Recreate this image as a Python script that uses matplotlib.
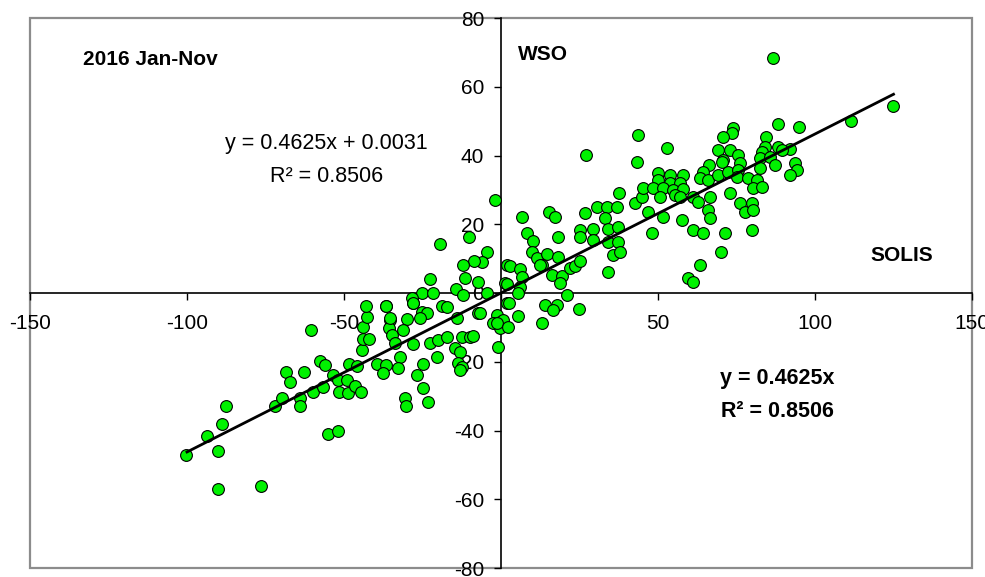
import matplotlib
matplotlib.use("Agg")
import matplotlib.pyplot as plt
from matplotlib.patches import Rectangle
import numpy as np

plt.rcParams['font.family'] = ['Liberation Sans', 'DejaVu Sans']
plt.rcParams['axes.unicode_minus'] = False

# SOLIS (x) vs WSO (y) values
solis = [
    # left tail
    -100.4, -93.7, -89.0, -87.6, -90.0, -90.0, -76.4,
    -72.0, -69.8, -68.5, -67.2, -62.7, -64.0, -64.0, -60.6, -60.0,
    -57.6, -56.0, -56.6, -53.4, -51.8, -51.5, -49.1, -48.6, -46.5, -44.7, -48.3, -46.0, -55.0, -51.8,
    # mid-left
    -44.4, -43.8, -41.9, -43.8, -42.8, -43.0, -36.7, -35.4, -35.6, -34.8, -33.8, -30.0, -31.1,
    -27.9, -27.9, -32.2, -32.7, -39.6, -36.6, -37.5, -30.6, -30.2, -26.8, -24.7, -24.7, -23.1,
    -25.3, -23.7, -25.3, -21.8, -28.4, -22.6, -20.0, -18.9, -17.3, -20.5, -12.5, -9.9, -8.8,
    -14.6, -13.1, -13.6, -12.5, -13.1, -7.2, -14.1, -0.9, -1.4, -0.3, -0.3, -6.7, -2.5,
    # upper center-left
    -19.4, -10.1, -4.6, -6.2, -8.5, -12.0, -11.5, -7.4, -4.6, -14.3, -12.0, -22.6, -28.1,
    -25.8, -17.3, -35.4, -36.6, -1.9, 1.8, 1.3, 1.8,
    # center-right
    43.7, 27.0, 43.2, 6.8, 15.3, 17.2, 8.2, 10.1, 18.3, 9.8, 11.4, 13.0, 14.5, 18.3,
    25.2, 25.2, 29.4, 29.4, 26.8, 30.5, 33.7, 36.8, 33.1, 34.2, 37.4, 34.2, 37.4, 35.8, 37.9,
    34.2, 37.6, 42.7, 44.8, 45.3, 46.9, 2.9, 6.1, 6.6, 1.8, 6.1, 5.5,
    12.4, 16.1, 19.3, 18.8, 22.0, 23.6, 25.2, 21.1, 24.9, 14.0, 17.7, 16.5, 13.2, 2.7,
    0.7, -1.4, 2.3, 5.5,
    # right cluster
    88.3, 95.0, 74.0, 73.5, 70.6, 53.0, 84.4, 84.1, 88.3, 92.0, 69.2, 70.8, 72.9, 75.6, 76.1,
    83.0, 82.5, 85.7, 89.4, 87.3, 93.6, 94.2, 92.0, 66.3, 70.3, 64.4, 63.4, 66.0, 69.2, 72.4,
    75.6, 75.1, 82.5, 78.8, 81.4, 80.4, 83.0, 50.1, 53.8, 58.1, 50.1, 53.8, 57.0, 48.5, 51.7,
    54.9, 58.1, 50.6, 55.4, 57.0, 61.2, 62.8, 66.6, 66.0, 66.6, 72.9, 76.1, 77.7, 79.8, 80.4,
    51.7, 57.5, 48.0, 61.2, 64.4, 71.3, 79.8, 70.0, 63.4, 59.7, 61.2,
    # right tail
    86.7, 111.5, 124.9,
]
wso = [
    # left tail
    -47.1, -41.6, -38.1, -32.8, -46.0, -56.9, -56.0,
    -32.9, -30.6, -22.9, -25.8, -23.1, -30.5, -33.0, -10.8, -28.9,
    -19.7, -21.0, -27.3, -23.9, -25.3, -28.7, -25.3, -29.2, -27.0, -28.9, -20.7, -21.2, -41.0, -40.1,
    # mid-left
    -16.6, -13.5, -13.5, -9.8, -6.9, -3.8, -3.8, -7.9, -10.3, -12.2, -14.6, -7.7, -10.8,
    -2.8, -14.8, -18.5, -21.9, -20.7, -20.9, -23.4, -30.6, -32.9, -23.9, -20.7, -27.7, -31.6,
    -5.4, -5.9, 0.0, 0.0, -1.5, -14.6, -13.7, -3.8, -12.7, -18.5, -12.7, -12.7, -12.5,
    -16.1, -17.1, -20.5, -21.4, -22.4, -5.9, -7.4, -15.6, -6.4, -8.3, -10.3, -5.9, -8.8,
    # upper center-left
    14.2, 16.4, 12.0, 9.1, 9.4, 8.1, 4.3, 3.3, 0.1, 1.1, -0.6, 4.1, -3.0,
    -7.4, -4.0, -7.4, -3.8, 27.0, 8.1, 2.8, -3.0,
    # center-right
    46.0, 40.1, 38.2, 22.0, 23.7, 22.0, 17.4, 15.2, 16.4, 12.0, 10.1, 8.1, 11.3, 10.6,
    18.3, 16.4, 18.5, 15.4, 23.4, 24.9, 24.9, 25.1, 21.7, 18.5, 19.1, 14.9, 14.9, 11.1, 12.0,
    6.2, 29.2, 26.1, 28.0, 30.5, 23.7, 7.9, 6.9, 4.7, 2.6, 1.8, -0.1,
    8.1, 5.2, 4.9, 3.0, 7.2, 7.9, 9.4, -0.6, -4.7, -3.5, -3.5, -4.9, -8.8, -2.8,
    -7.9, -8.8, -9.8, -6.7,
    # right cluster
    49.2, 48.4, 47.9, 46.5, 45.5, 42.1, 45.5, 42.6, 42.6, 41.8, 41.6, 38.7, 41.6, 40.1, 37.7,
    41.1, 39.2, 39.7, 41.6, 37.2, 37.7, 35.8, 34.3, 37.2, 38.2, 35.3, 33.4, 32.9, 34.3, 35.3,
    35.8, 33.8, 36.3, 33.4, 32.9, 30.5, 30.9, 34.8, 34.3, 34.3, 32.9, 31.9, 31.9, 30.5, 30.5,
    30.0, 30.2, 28.0, 28.5, 28.0, 28.0, 26.6, 28.0, 24.1, 21.7, 29.0, 26.1, 23.7, 26.1, 24.1,
    22.2, 21.2, 17.4, 18.3, 17.4, 17.4, 18.3, 12.0, 8.1, 4.3, 3.3,
    # right tail
    68.5, 50.1, 54.4,
]

slope = 0.4625
intercept = 0.0031
fit_x = [-100, 125]

x_ticks = [-150, -100, -50, 0, 50, 100, 150]
y_ticks = [-80, -60, -40, -20, 0, 20, 40, 60, 80]

fig = plt.figure(figsize=(9.85, 5.77), dpi=100)
ax = fig.add_axes([30 / 985, 9 / 577, 942 / 985, 550 / 577])
ax.set_xlim(-150, 150)
ax.set_ylim(-80, 80)

# outer gray frame
ax.add_patch(Rectangle((0, 0), 1, 1, transform=ax.transAxes, fill=False,
                       edgecolor='#8c8c8c', linewidth=1.6, zorder=0.5, clip_on=False))

for s in ['top', 'right']:
    ax.spines[s].set_visible(False)
ax.spines['left'].set_position(('data', 0))
ax.spines['bottom'].set_position(('data', 0))
for s in ['left', 'bottom']:
    ax.spines[s].set_color('black')
    ax.spines[s].set_linewidth(1.2)

ax.set_xticks(x_ticks)
ax.set_yticks(y_ticks)
ax.tick_params(axis='x', direction='out', length=5, width=1.0, pad=10,
               labelsize=15, colors='black')
ax.tick_params(axis='y', direction='out', length=5, width=1.0, pad=7,
               labelsize=15, colors='black')

ax.scatter(solis, wso, s=72, c='#00f200', edgecolors='black', linewidths=0.8, zorder=3)

fx = np.array(fit_x, dtype=float)
ax.plot(fx, slope * fx + intercept, color='black', linewidth=2.0, zorder=4)

ax.text(-133.1, 67.8, '2016 Jan-Nov', fontsize=15, fontweight='bold', ha='left', va='center')
ax.text(5.4, 69.5, 'WSO', fontsize=15, fontweight='bold', ha='left', va='center')
ax.text(117.8, 11.0, 'SOLIS', fontsize=15, fontweight='bold', ha='left', va='center')
ax.text(-55.6, 43.6, 'y = 0.4625x + 0.0031', fontsize=15.5, ha='center', va='center')
ax.text(-55.4, 34.0, 'R² = 0.8506', fontsize=15.5, ha='center', va='center')
ax.text(87.9, -25.0, 'y = 0.4625x', fontsize=15.5, fontweight='bold', ha='center', va='center')
ax.text(87.9, -34.6, 'R² = 0.8506', fontsize=15.5, fontweight='bold', ha='center', va='center')

fig.savefig('out.png', dpi=100)
